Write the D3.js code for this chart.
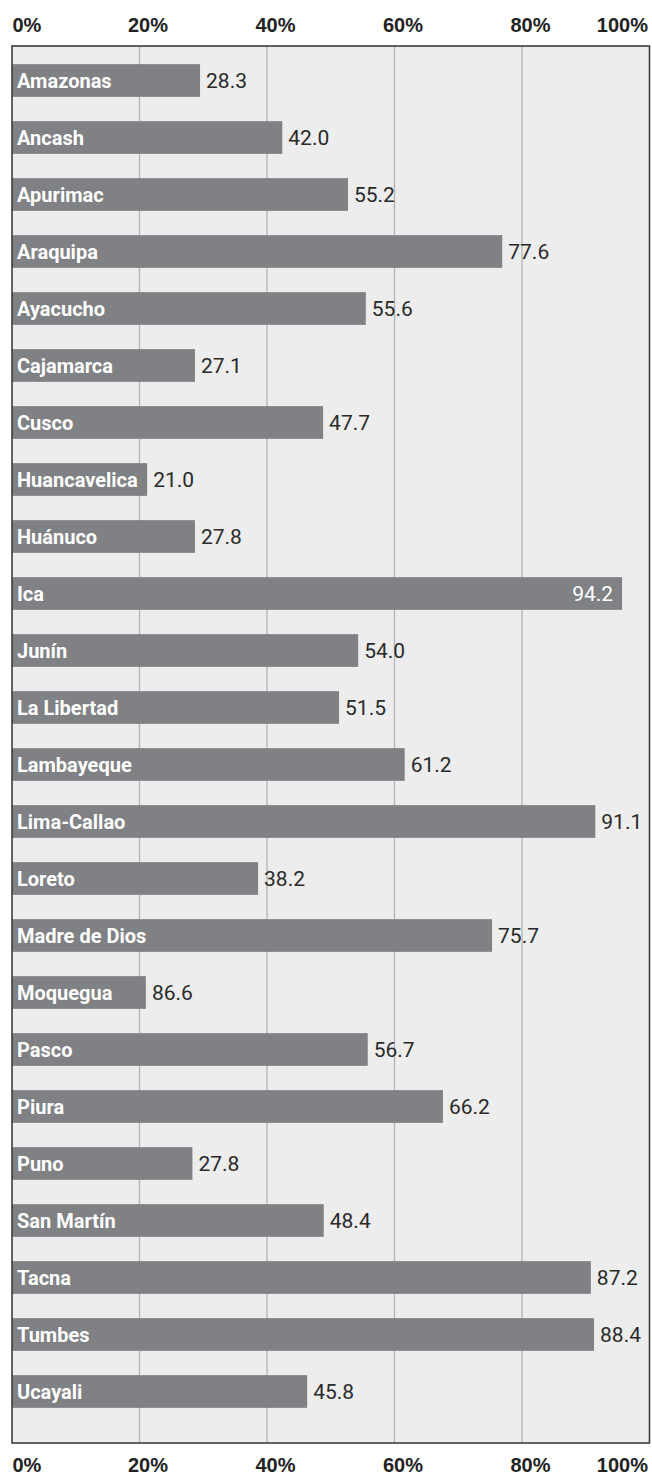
<!DOCTYPE html>
<html lang="es">
<head>
  <meta charset="UTF-8">
  <title>Regiones</title>
  <style>
    body {
      margin: 0;
      background: #ffffff;
    }
    #graph {
      display: block;
      font-family: Roboto, "Noto Sans", sans-serif;
    }
    .axis text {
      font-size: 20px;
      font-weight: bold;
      fill: #222222;
    }
    .grid line {
      stroke: #b4b4b4;
      stroke-width: 1.3;
    }
    .bar {
      fill: #808185;
    }
    .name {
      font-size: 20px;
      font-weight: bold;
      fill: #ffffff;
    }
    .value {
      font-size: 21px;
      fill: #2a2a2a;
    }
    .value.inside {
      fill: #ffffff;
    }
  </style>
</head>
<body>
<svg id="graph" width="652" height="1475"></svg>

<script src="https://cdn.jsdelivr.net/npm/d3@7"></script>
<script>
  "use strict";

  var regions = [
    "Amazonas", "Ancash", "Apurimac", "Araquipa", "Ayacucho", "Cajamarca",
    "Cusco", "Huancavelica", "Huánuco", "Ica", "Junín", "La Libertad",
    "Lambayeque", "Lima-Callao", "Loreto", "Madre de Dios", "Moquegua",
    "Pasco", "Piura", "Puno", "San Martín", "Tacna", "Tumbes", "Ucayali"
  ];

  // bar lengths as drawn in the picture
  var barValues = [
    29.5, 42.4, 52.7, 76.9, 55.5, 28.7,
    48.8, 21.2, 28.7, 95.7, 54.3, 51.3,
    61.6, 91.5, 38.6, 75.3, 21.0,
    55.8, 67.6, 28.3, 48.9, 90.8, 91.3, 46.3
  ];

  // printed labels
  var valueLabels = [
    "28.3", "42.0", "55.2", "77.6", "55.6", "27.1",
    "47.7", "21.0", "27.8", "94.2", "54.0", "51.5",
    "61.2", "91.1", "38.2", "75.7", "86.6",
    "56.7", "66.2", "27.8", "48.4", "87.2", "88.4", "45.8"
  ];

  var tickValues = [0, 20, 40, 60, 80, 100];
  var gridValues = [20, 40, 60, 80];

  var rows = regions.map(function(d, i){
    return { name: d, value: barValues[i], label: valueLabels[i] };
  });

  var plotLeft = 12, plotRight = 649.5, plotTop = 46, plotBottom = 1443;

  var xScale = d3.scaleLinear()
    .domain([0, 100])
    .range([plotLeft, plotRight]);

  var yScale = d3.scaleBand()
    .domain(regions)
    .range([52, 52 + 24 * 57])
    .paddingInner(0.426)
    .paddingOuter(0.213);

  var svg = d3.select("#graph");

  // plot background
  svg.append("rect")
    .attr("x", plotLeft)
    .attr("y", plotTop)
    .attr("width", plotRight - plotLeft)
    .attr("height", plotBottom - plotTop)
    .attr("fill", "#ededed");

  svg.append("g")
    .attr("class", "grid")
    .selectAll("line")
    .data(gridValues)
    .enter()
    .append("line")
    .attr("x1", function(d){ return xScale(d); })
    .attr("x2", function(d){ return xScale(d); })
    .attr("y1", plotTop)
    .attr("y2", plotBottom);

  var row = svg.append("g")
    .selectAll("g")
    .data(rows)
    .enter()
    .append("g");

  row.append("rect")
    .attr("class", "bar")
    .attr("x", xScale(0))
    .attr("y", function(d){ return yScale(d.name); })
    .attr("width", function(d){ return xScale(d.value) - xScale(0); })
    .attr("height", yScale.bandwidth());

  row.append("text")
    .attr("class", "name")
    .attr("x", xScale(0) + 5)
    .attr("y", function(d){ return yScale(d.name) + yScale.bandwidth() / 2; })
    .attr("dy", "0.35em")
    .text(function(d){ return d.name; });

  // label goes inside the bar when there is no room on the right
  function inside(d){ return xScale(d.value) + 50 > plotRight; }

  row.append("text")
    .attr("class", function(d){ return inside(d) ? "value inside" : "value"; })
    .attr("x", function(d){
      return inside(d) ? xScale(d.value) - 9 : xScale(d.value) + 6;
    })
    .attr("text-anchor", function(d){ return inside(d) ? "end" : "start"; })
    .attr("y", function(d){ return yScale(d.name) + yScale.bandwidth() / 2; })
    .attr("dy", "0.36em")
    .text(function(d){ return d.label; });

  // frame
  svg.append("rect")
    .attr("x", plotLeft)
    .attr("y", plotTop)
    .attr("width", plotRight - plotLeft)
    .attr("height", plotBottom - plotTop)
    .attr("fill", "none")
    .attr("stroke", "#3c3c3c")
    .attr("stroke-width", 1.6);

  function styleTicks(g){
    g.select(".domain").remove();
    g.selectAll(".tick text")
      .attr("fill", "#222222")
      .attr("text-anchor", function(d){
        return d === 0 ? "start" : (d === 100 ? "end" : "middle");
      })
      .attr("dx", function(d){
        return d === 0 ? 0 : (d === 100 ? -2 : 8);
      });
  }

  svg.append("g")
    .attr("class", "axis")
    .attr("transform", "translate(0, 35)")
    .call(d3.axisTop(xScale).tickValues(tickValues).tickSize(0)
      .tickFormat(function(d){ return d + "%"; }))
    .call(styleTicks);

  svg.append("g")
    .attr("class", "axis")
    .attr("transform", "translate(0, 1455)")
    .call(d3.axisBottom(xScale).tickValues(tickValues).tickSize(0)
      .tickFormat(function(d){ return d + "%"; }))
    .call(styleTicks);
</script>
</body>
</html>
